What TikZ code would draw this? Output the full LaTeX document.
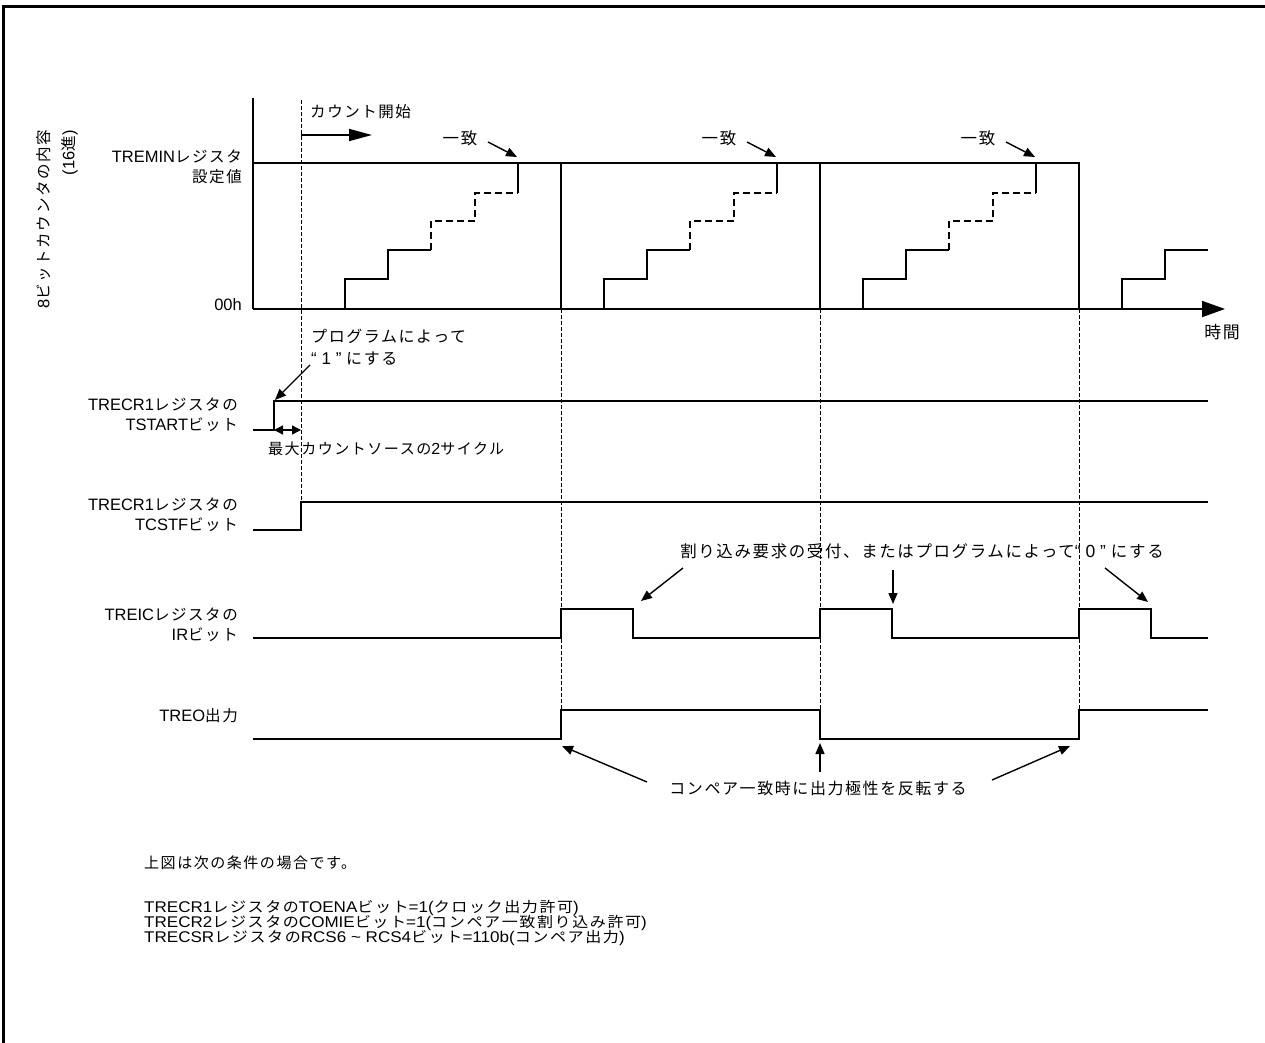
\documentclass[tikz,border=0pt]{standalone}
\usepackage{fontspec}
\usepackage{graphicx}
\setmainfont{Liberation Sans}
\newfontfamily\jpf[LetterSpace=10, Scale=0.94]{Noto Sans CJK JP}
\newcommand\J[1]{{\jpf #1}}
\usetikzlibrary{arrows.meta}
\tikzset{
  sig/.style={line width=1.8pt},
  axisline/.style={line width=1.8pt},
  thinline/.style={line width=1.1pt},
  guide/.style={line width=0.9pt, dash pattern=on 4pt off 2pt},
  stepdash/.style={line width=2pt, dash pattern=on 7pt off 4pt},
  note/.style={line width=1.4pt, -{Triangle[length=11pt,width=9pt]}},
  lbl/.style={inner sep=0pt, align=right, anchor=east},
  txt/.style={inner sep=0pt},
  condline/.style={inner sep=0pt, anchor=west, font=\fontsize{15.5}{16}\selectfont},
}
\begin{document}
\begin{tikzpicture}[x=1pt,y=-1pt,font=\fontsize{16.5}{20}\selectfont]
\useasboundingbox (0,0) rectangle (1265,1043);
% frame
\draw[line width=3pt] (3,1043) -- (3,7) -- (1265,7);
% axes
\draw[axisline] (253,98) -- (253,309);
\draw[axisline,-{Triangle[length=23pt,width=16pt]}] (253,309) -- (1225,309);
\node[txt, font=\fontsize{18}{20}\selectfont] (time) at (1222,332) {\J{時間}};
% TREMIN level
\draw[thinline] (253,163) -- (1079,163);
\node[lbl] (tremin) at (242,167) {TREMIN\J{レジスタ}\\\J{設定値}};
\node[lbl] (zero) at (242,305) {00h};
% y axis label
\node[inner sep=0pt, rotate=90, anchor=east, align=right, font=\fontsize{16.5}{25}\selectfont] (ylab) at (57,130) {8\J{ビットカウンタの内容}\\(16\J{進})};
% count start
\draw[guide] (301,100) -- (301,502);
\draw[line width=1.6pt,-{Triangle[length=23pt,width=12pt]}] (301,135) -- (372,135);
\node[txt, anchor=west] (cstart) at (310,112) {\J{カウント開始}};
% staircases
\foreach \d in {0,259,518}{
  \draw[sig] (345+\d,309) -- (345+\d,279) -- (388+\d,279) -- (388+\d,250) -- (431+\d,250);
  \draw[stepdash] (431+\d,250) -- (431+\d,221) -- (475+\d,221) -- (475+\d,193) -- (518+\d,193);
  \draw[sig] (518+\d,193) -- (518+\d,163) -- (561+\d,163) -- (561+\d,309);
  \node[txt, font=\fontsize{17.5}{20}\selectfont] at (460+\d,138) {\J{一致}};
  \draw[note] (488+\d,142) -- (517+\d,157);
  \draw[guide] (561+\d,309) -- (561+\d,739);
}
\draw[sig] (1122,309) -- (1122,279) -- (1165,279) -- (1165,250) -- (1208,250);
% TSTART
\node[lbl] (tstart) at (238,415) {TRECR1\J{レジスタの}\\TSTART\J{ビット}};
\draw[sig] (253,430) -- (274,430) -- (274,401) -- (1208,401);
\coordinate (ts1) at (274,430);
\coordinate (ts2) at (301,430);
\draw[line width=1.4pt,{Triangle[length=9pt,width=9pt]}-{Triangle[length=9pt,width=9pt]}] (ts1) -- (ts2);
\node[txt, anchor=west, font=\fontsize{16}{20}\selectfont] (cyc) at (268,449) {\J{最大カウントソースの}2\J{サイクル}};
\node[txt, anchor=west, align=left, font=\fontsize{17}{22}\selectfont] (prog1) at (311,347) {\J{プログラムによって}\\“\ 1\ ”\ \J{にする}};
\coordinate (p1a) at (310,365);
\coordinate (p1b) at (275,400);
\draw[note] (p1a) -- (p1b);
% TCSTF
\node[lbl] (tcstf) at (238,515) {TRECR1\J{レジスタの}\\TCSTF\J{ビット}};
\draw[sig] (253,530) -- (301,530) -- (301,502) -- (1208,502);
% IR
\node[lbl] (ir) at (238,625) {TREIC\J{レジスタの}\\IR\J{ビット}};
\draw[sig] (253,638) -- (561,638) -- (561,609) -- (633,609) -- (633,638) -- (820,638) -- (820,609) -- (892,609) -- (892,638) -- (1079,638) -- (1079,609) -- (1151,609) -- (1151,638) -- (1208,638);
\node[txt, font=\fontsize{17.5}{20}\selectfont] (irnote) at (922,551) {\J{割り込み要求の受付、またはプログラムによって}“\ 0\ ”\ \J{にする}};
\draw[note] (683,568) -- (641,601);
\draw[note] (893,570) -- (893,604);
\draw[note] (1105,568) -- (1148,602);
% TREO
\node[lbl] (treo) at (238,716) {TREO\J{出力}};
\draw[sig] (253,739) -- (561,739) -- (561,710) -- (820,710) -- (820,739) -- (1079,739) -- (1079,710) -- (1208,710);
\node[txt, font=\fontsize{17}{20}\selectfont] (treonote) at (818,788) {\J{コンペア一致時に出力極性を反転する}};
\draw[note] (647,782) -- (562,746);
\draw[note] (820,772) -- (820,743);
\draw[note] (992,780) -- (1070,746);
% conditions
\node[txt, anchor=west, font=\fontsize{16}{20}\selectfont] (cond) at (144,863) {\J{上図は次の条件の場合です。}};
\node[condline] (c1) at (144,908) {\scalebox{1.1}[1]{TRECR1\J{レジスタの}TOENA\J{ビット}=1(\J{クロック出力許可})}};
\node[condline] (c2) at (144,923) {\scalebox{1.1}[1]{TRECR2\J{レジスタの}COMIE\J{ビット}=1(\J{コンペア一致割り込み許可})}};
\node[condline] (c3) at (144,938) {\scalebox{1.1}[1]{TRECSR\J{レジスタの}RCS6 \textasciitilde\ RCS4\J{ビット}=110b(\J{コンペア出力})}};
\end{tikzpicture}
\end{document}
